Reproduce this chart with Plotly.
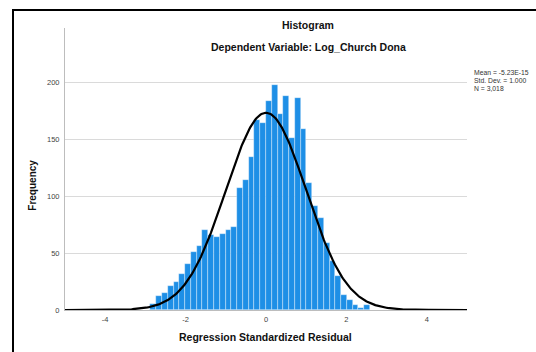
import numpy as np
import plotly.graph_objects as go

# ---- data ----
bin_start = -2.874
bin_width = 0.1437
counts = [5, 12, 15, 21, 25, 32, 40, 51, 56, 70,
          66, 64, 67, 70, 73, 107, 114, 134, 167, 164,
          183, 197, 172, 188, 151, 186, 159, 111, 91, 81,
          59, 43, 30, 13, 9, 4, 2, 4]
mean_val = -5.23e-15
sd_val = 1.000
n_val = 3018
x_ticks = [-4, -2, 0, 2, 4]
y_ticks = [0, 50, 100, 150, 200]
stats_lines = ["Mean = -5.23E-15", "Std. Dev. = 1.000", "N = 3,018"]

centers = [bin_start + (i + 0.5) * bin_width for i in range(len(counts))]
xs = np.linspace(-5, 5, 400)
ys = n_val * bin_width / (sd_val * np.sqrt(2 * np.pi)) * np.exp(-0.5 * ((xs - mean_val) / sd_val) ** 2)

fig = go.Figure()
fig.add_trace(go.Bar(x=centers, y=counts, width=bin_width,
                     marker=dict(color="#1E8FE6", line=dict(color="rgba(255,255,255,0.6)", width=0.6)),
                     showlegend=False, hoverinfo="skip"))
fig.add_trace(go.Scatter(x=xs, y=ys, mode="lines", line=dict(color="black", width=2.2),
                         showlegend=False, hoverinfo="skip", cliponaxis=False))

FONT = "Liberation Sans, Arial, sans-serif"
L, R, T, B = 65, 69, 28, 42
W, H = 536, 352
pw, ph = W - L - R, H - T - B

def px(x):
    return (x - L) / pw

def py(y):
    return (H - B - y) / ph

fig.update_layout(
    width=W, height=H,
    margin=dict(l=L, r=R, t=T, b=B),
    paper_bgcolor="white", plot_bgcolor="white",
    bargap=0,
    font=dict(family=FONT),
    xaxis=dict(range=[-5, 5], tickvals=x_ticks, ticktext=[str(v) for v in x_ticks],
               showgrid=False, zeroline=False, showline=True, linecolor="#BDBDBD", linewidth=1,
               ticks="", tickfont=dict(size=7.5, color="#444444"), ticklabelstandoff=2),
    yaxis=dict(range=[0, 247.4], tickvals=y_ticks, ticktext=[str(v) for v in y_ticks],
               showgrid=True, gridcolor="#DADADA", gridwidth=1, zeroline=False,
               showline=True, linecolor="#BDBDBD", linewidth=1,
               ticks="", tickfont=dict(size=7.5, color="#444444"), ticklabelstandoff=3),
)

ann = [
    dict(text="<b>Histogram</b>", x=px(308), y=py(25), font=dict(size=10.5, color="#111111")),
    dict(text="<b>Dependent Variable: Log_Church Dona</b>", x=px(308), y=py(47), font=dict(size=10.5, color="#111111")),
    dict(text="<b>Regression Standardized Residual</b>", x=px(265.5), y=py(337), font=dict(size=10.5, color="#111111")),
    dict(text="<b>Frequency</b>", x=px(31.7), y=py(185), textangle=-90, font=dict(size=10, color="#111111")),
]
for txt, yy in zip(stats_lines, [72.7, 80.4, 88.1]):
    ann.append(dict(text=txt, x=px(471.5), y=py(yy), xanchor="left", font=dict(size=6.8, color="#333333")))
for a in ann:
    a.setdefault("xanchor", "center")
    a.update(xref="paper", yref="paper", yanchor="middle", showarrow=False)
fig.update_layout(annotations=ann)

fig.add_shape(type="rect", xref="paper", yref="paper",
              x0=px(13), x1=px(560), y0=py(10), y1=py(380),
              line=dict(color="black", width=2), fillcolor="rgba(0,0,0,0)", layer="above")

fig.write_html("out.html")
